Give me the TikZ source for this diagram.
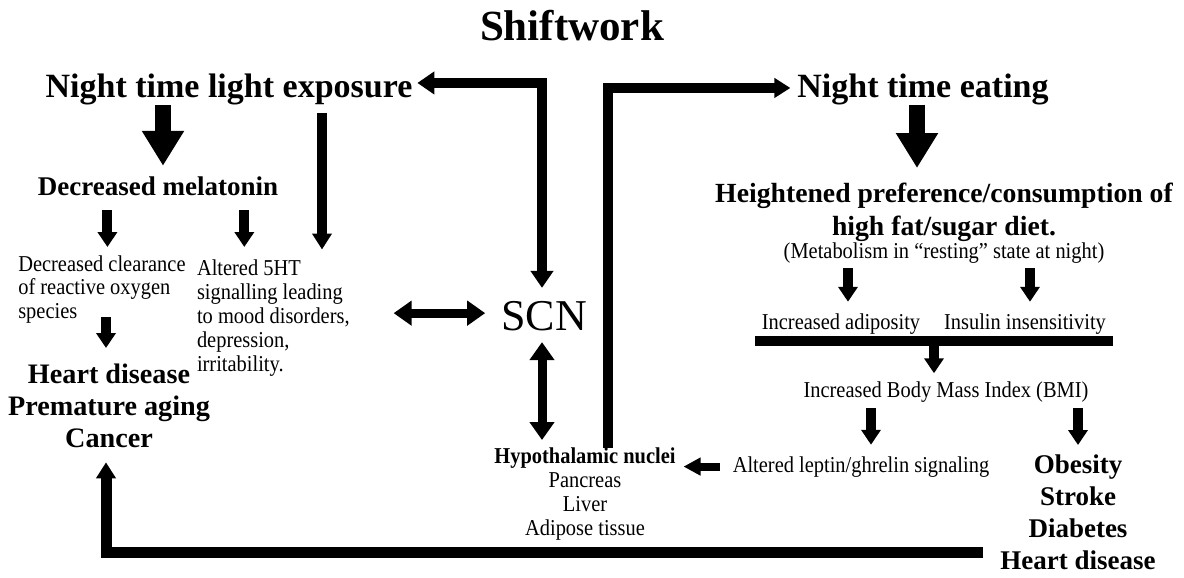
\documentclass[tikz,border=0pt]{standalone}
\usepackage{fontspec}
\setmainfont{Liberation Serif}
\newfontfamily\narrowserif{Liberation Serif}[FakeStretch=0.9]
\usetikzlibrary{arrows.meta,calc}
\begin{document}
\begin{tikzpicture}[x=1pt,y=-1pt,
  txt/.style={inner sep=0pt, outer sep=0pt},
  big/.style={font=\fontsize{34}{40}\selectfont\bfseries},
  mid/.style={font=\fontsize{27}{32}\selectfont\bfseries},
  sm/.style={font=\narrowserif\fontsize{22.7}{24}\selectfont},
  fat/.style={line width=16pt, -{Triangle[width=40pt,length=35pt]}},
  lng/.style={line width=10pt, -{Triangle[width=19pt,length=16pt]}},
  small/.style={line width=10pt, -{Triangle[width=19pt,length=15pt]}},
  conn/.style={line width=10pt},
  dbl/.style={line width=9pt, {Triangle[width=24pt,length=18pt]}-{Triangle[width=24pt,length=18pt]}}
]
\useasboundingbox (0,0) rectangle (1184,578);

% nodes
\node[txt, font=\fontsize{43}{48}\selectfont\bfseries, anchor=base] (title) at (572,41) {Shiftwork};
\node[txt, big, anchor=base] (nle) at (229,97) {Night time light exposure};
\node[txt, big, anchor=base] (nte) at (923,97) {Night time eating};
\node[txt, mid, anchor=base] (dm) at (158,195.5) {Decreased melatonin};
\node[txt, font=\fontsize{27.7}{33}\selectfont\bfseries, align=center, anchor=north] (hp) at (944,183) {Heightened preference/consumption of\\high fat/sugar diet.};
\node[txt, sm, anchor=base] (meta) at (944,258) {(Metabolism in “resting” state at night)};
\node[txt, sm, anchor=base] (adip) at (841,329) {Increased adiposity};
\node[txt, sm, anchor=base] (ins) at (1025,329) {Insulin insensitivity};
\node[fill=black, inner sep=0pt, minimum width=358pt, minimum height=10pt] (bar) at (934,341) {};
\node[txt, sm, anchor=base] (bmi) at (946,397) {Increased Body Mass Index (BMI)};
\node[txt, sm, anchor=base] (lep) at (861,472) {Altered leptin/ghrelin signaling};
\node[txt, mid, align=center, anchor=north] (obes) at (1078,454.4) {Obesity\\Stroke\\Diabetes\\Heart disease};
\node[txt, sm, align=center, anchor=north] (hyp) at (585,447.5) {\textbf{Hypothalamic nuclei}\\Pancreas\\Liver\\Adipose tissue};
\node[txt, font=\narrowserif\fontsize{22.7}{23.2}\selectfont, align=left, anchor=north west] (clear) at (18.3,256) {Decreased clearance\\of reactive oxygen\\species};
\node[txt, sm, align=left, anchor=north west] (alt) at (197,259.5) {Altered 5HT\\signalling leading\\to mood disorders,\\depression,\\irritability.};
\node[txt, font=\fontsize{28.2}{32}\selectfont\bfseries, align=center, anchor=north] (hd) at (109,363.5) {Heart disease\\Premature aging\\Cancer};
\node[txt, font=\fontsize{44}{50}\selectfont, anchor=base] (scn) at (544,330) {SCN};

% elbow connectors
\draw[conn, {Triangle[width=22pt,length=17pt]}-{Triangle[width=22pt,length=17pt]}, shorten >=13pt]
  ([shift={(5pt,6pt)}]nle.east) -| ([xshift=-2pt]scn.north);
\draw[conn, -{Triangle[width=19pt,length=16pt]}]
  ([xshift=23pt]hyp.north) |- ([shift={(-7pt,1pt)}]nte.west);
\draw[line width=11pt, -{Triangle[width=19pt,length=16pt]}, shorten >=15pt]
  ([shift={(-17pt,16.5pt)}]obes.south west) -| ([xshift=-3pt]hd.south);

% double arrows
\draw[dbl, shorten >=16pt] ($(alt.east |- scn.west)+(44pt,2.5pt)$) -- ([yshift=2.5pt]scn.west);
\draw[dbl, shorten <=11.7pt, shorten >=7.5pt] ([xshift=-2pt]scn.south) -- ([xshift=-2pt]scn.south |- hyp.north);

% straight arrows
\draw[fat, shorten <=0.5pt, shorten >=11pt] ([xshift=5pt]dm.north |- nle.south) -- ([xshift=5pt]dm.north);
\draw[fat, shorten >=15pt] ([xshift=-27pt]hp.north |- nte.south) -- ([xshift=-27pt]hp.north);
\draw[lng, shorten <=8pt, shorten >=10pt] ([xshift=93pt]nle.south) -- ([xshift=93pt]nle.south |- alt.north);
\draw[small, shorten <=14.5pt, shorten >=9pt] ([xshift=5.5pt]clear.north |- dm.south) -- ([xshift=5.5pt]clear.north);
\draw[small, shorten <=14.5pt, shorten >=12.5pt] ([xshift=-29pt]alt.north |- dm.south) -- ([xshift=-29pt]alt.north);
\draw[small, shorten <=-6pt, shorten >=15.5pt] ([xshift=-3pt]hd.north |- clear.south) -- ([xshift=-3pt]hd.north);
\draw[small, shorten <=5pt, shorten >=11.5pt] ([xshift=7pt]adip.north |- meta.south) -- ([xshift=7pt]adip.north);
\draw[small, shorten <=5pt, shorten >=11.5pt] ([xshift=5pt]ins.north |- meta.south) -- ([xshift=5pt]ins.north);
\draw[small, shorten >=8pt] (bar.center) -- (bar.center |- bmi.north);
\draw[small, shorten <=6pt, shorten >=11.5pt] ([xshift=10pt]lep.north |- bmi.south) -- ([xshift=10pt]lep.north);
\draw[small, shorten <=6pt, shorten >=9.4pt] (obes.north |- bmi.south) -- (obes.north);
\draw[line width=8pt, -{Triangle[width=17pt,length=17pt]}, shorten <=13pt, shorten >=8pt] (lep.west) -- (lep.west -| hyp.east);
\end{tikzpicture}
\end{document}
